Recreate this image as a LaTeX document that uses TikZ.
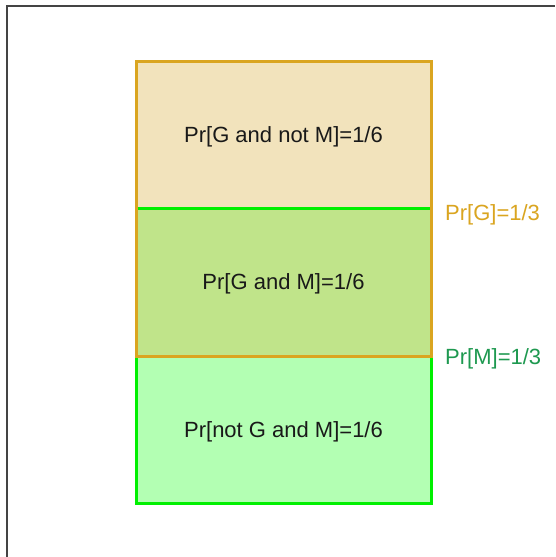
\documentclass[tikz,border=0pt]{standalone}
\usepackage{fontspec}
\setmainfont{Liberation Sans}
\definecolor{gold}{HTML}{DAA520}
\definecolor{wheatf}{HTML}{F2E3BC}
\definecolor{midf}{HTML}{C0E48A}
\definecolor{lowf}{HTML}{B3FFB3}
\definecolor{brightg}{HTML}{00F000}
\definecolor{mlabel}{HTML}{1E9950}
\definecolor{frame}{HTML}{444444}
\begin{document}
\begin{tikzpicture}[x=1pt,y=-1pt,
  lbl/.style={font=\fontsize{22}{26}\selectfont, inner sep=0pt, text=black!90},
  side/.style={font=\fontsize{22}{26}\selectfont, inner sep=0pt, anchor=west}]
\useasboundingbox (0,0) rectangle (555,557);
\fill[white] (0,0) rectangle (555,557);
\draw[frame, line width=2pt] (6.5,557) -- (6.5,6) -- (555,6);
% fills
\fill[wheatf] (136,61) rectangle (431,208);
\fill[midf] (136,208) rectangle (431,356);
\fill[lowf] (136,356) rectangle (431,503);
% borders
\draw[brightg, line width=3pt] (136,208) rectangle (431,503);
\draw[gold, line width=3pt] (136,61) rectangle (431,356);
\coordinate (gl) at (137.5,208);
\coordinate (gr) at (429.5,208);
\draw[brightg, line width=3pt] (gl) -- (gr);
% texts
\node[lbl] (t1) at (283.5,137) {Pr[G and not M]=1/6};
\node[lbl] (t2) at (283.5,284) {Pr[G and M]=1/6};
\node[lbl] (t3) at (283.5,432) {Pr[not G and M]=1/6};
\node[side, text=gold] (pg) at (445,215) {Pr[G]=1/3};
\node[side, text=mlabel] (pm) at (445,359) {Pr[M]=1/3};
\end{tikzpicture}
\end{document}
